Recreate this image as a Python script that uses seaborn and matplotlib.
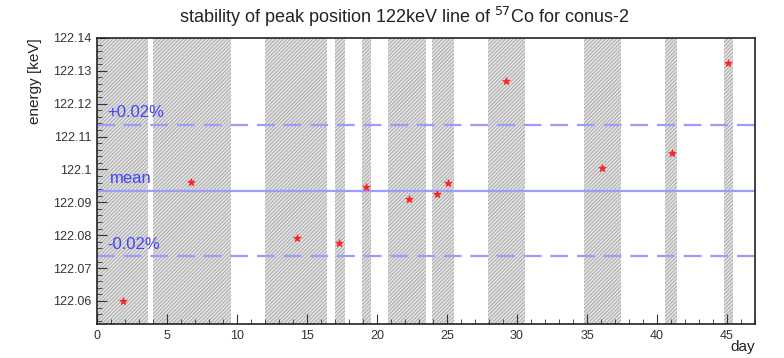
import matplotlib
matplotlib.use("Agg")
import matplotlib.pyplot as plt
import seaborn as sns
import numpy as np
import pandas as pd
from matplotlib.ticker import MultipleLocator

# ---- data ----
days = [1.86, 6.7, 14.27, 17.3, 19.2, 22.3, 24.3, 25.1, 29.2, 36.1, 41.07, 45.1]
energy = [122.0600, 122.0962, 122.0792, 122.0777, 122.0947, 122.0911,
          122.0926, 122.0959, 122.1269, 122.1005, 122.1050, 122.1324]
band_start = [0.0, 4.0, 12.0, 17.0, 18.9, 20.8, 23.9, 27.9, 34.8, 40.6, 44.8]
band_end = [3.64, 9.57, 16.4, 17.7, 19.6, 23.5, 25.5, 30.6, 37.4, 41.4, 45.4]
mean_energy = 122.0936
band_width = 0.0200
x_ticks = [0, 5, 10, 15, 20, 25, 30, 35, 40, 45]
y_ticks = [122.06, 122.07, 122.08, 122.09, 122.10, 122.11, 122.12, 122.13, 122.14]
y_tick_labels = ["122.06", "122.07", "122.08", "122.09", "122.1", "122.11", "122.12", "122.13", "122.14"]

df = pd.DataFrame({"day": days, "energy": energy})

sns.set_style("ticks")
plt.rcParams["font.family"] = ["Liberation Sans", "DejaVu Sans"]
plt.rcParams["hatch.linewidth"] = 0.7

fig = plt.figure(figsize=(7.84, 3.58), dpi=100)
ax = fig.add_axes([0.1237, 0.095, 0.8393, 0.799])

for s, e in zip(band_start, band_end):
    ax.axvspan(s, e, facecolor="#e4e4e4", edgecolor="#a8a8a8", hatch="/" * 9,
               linewidth=0, zorder=0)

ax.axhline(mean_energy, color="#9c9cff", lw=1.6, zorder=1)
ax.axhline(mean_energy + band_width, color="#9c9cff", lw=1.6, ls=(0, (8, 4)), zorder=1)
ax.axhline(mean_energy - band_width, color="#9c9cff", lw=1.6, ls=(0, (8, 4)), zorder=1)

sns.scatterplot(data=df, x="day", y="energy", ax=ax, marker="*", s=30,
                color="#ff2020", edgecolor="#ff2020", linewidth=0.6, zorder=3)

tc = "#4343ff"
ax.text(0.7, mean_energy + band_width + 0.0013, "+0.02%", color=tc, fontsize=12, va="bottom")
ax.text(0.9, mean_energy + 0.0013, "mean", color=tc, fontsize=12, va="bottom")
ax.text(0.7, mean_energy - band_width + 0.0013, "-0.02%", color=tc, fontsize=12, va="bottom")

ax.set_xlim(0, 47)
ax.set_ylim(122.053, 122.14)
ax.set_xticks(x_ticks)
ax.set_yticks(y_ticks)
ax.set_yticklabels(y_tick_labels)
ax.xaxis.set_minor_locator(MultipleLocator(1))
ax.yaxis.set_minor_locator(MultipleLocator(0.002))
ax.tick_params(axis="both", which="major", direction="in", length=7, width=0.8,
               labelsize=9, colors="#333333", pad=4)
ax.tick_params(axis="both", which="minor", direction="in", length=3.5, width=0.6, colors="#333333")
for sp in ax.spines.values():
    sp.set_linewidth(1.2)
    sp.set_color("#222222")
    sp.set_visible(True)

ax.set_xlabel("")
ax.set_ylabel("")
fig.text(0.045, 0.894, "energy [keV]", rotation=90, ha="center", va="top", fontsize=11, color="#222222")
fig.text(0.963, 0.03, "day", ha="right", va="center", fontsize=11, color="#222222")
fig.text(0.515, 0.953, r"stability of peak position 122keV line of $^{57}$Co for conus-2",
         ha="center", va="center", fontsize=13, color="#222222")

fig.savefig("out.png", dpi=100, facecolor="white")
